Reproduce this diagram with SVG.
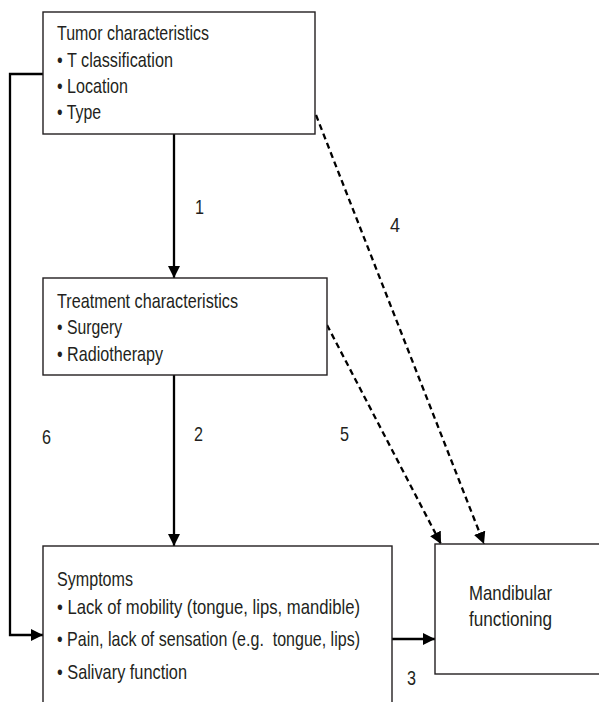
<svg xmlns="http://www.w3.org/2000/svg" width="599" height="702" viewBox="0 0 599 702">
<style>
  .box { fill: #ffffff; stroke: #231f20; stroke-width: 1.4; }
  .t { font-family: "Liberation Sans", Arial, sans-serif; font-size: 21px; fill: #231f20; }
  .c { fill: none; stroke: #000000; stroke-width: 2.3; }
  .d { fill: none; stroke: #000000; stroke-width: 2.3; stroke-dasharray: 6 4; }
</style>
<defs>
  <marker id="ah" markerUnits="userSpaceOnUse" markerWidth="13" markerHeight="13" refX="12" refY="6.5" orient="auto">
    <path d="M0,0.5 L12,6.5 L0,12.5 z" fill="#000000"/>
  </marker>
</defs>
<rect width="599" height="702" fill="#ffffff"/>

<g id="connectors">
  <line id="c1" class="c" x1="174" y1="134" x2="174" y2="278" marker-end="url(#ah)"/>
  <line id="c2" class="c" x1="174" y1="375" x2="174" y2="546" marker-end="url(#ah)"/>
  <line id="c3" class="c" x1="392" y1="639" x2="435" y2="639" marker-end="url(#ah)"/>
  <line id="c4" class="d" x1="316" y1="115" x2="484" y2="544" marker-end="url(#ah)"/>
  <line id="c5" class="d" x1="327" y1="325" x2="441" y2="544" marker-end="url(#ah)"/>
  <polyline id="c6" class="c" points="43,74 10,74 10,635 43,635" marker-end="url(#ah)"/>
  <text class="t" x="195" y="214" textLength="9" lengthAdjust="spacingAndGlyphs">1</text>
  <text class="t" x="194" y="441" textLength="9" lengthAdjust="spacingAndGlyphs">2</text>
  <text class="t" x="407" y="685" textLength="9" lengthAdjust="spacingAndGlyphs">3</text>
  <text class="t" x="390" y="232" textLength="10" lengthAdjust="spacingAndGlyphs">4</text>
  <text class="t" x="340" y="441" textLength="9" lengthAdjust="spacingAndGlyphs">5</text>
  <text class="t" x="42" y="444" textLength="9" lengthAdjust="spacingAndGlyphs">6</text>
</g>

<g id="tumor">
  <rect class="box" x="43" y="12" width="272" height="122"/>
  <text class="t" x="57" y="40" textLength="152" lengthAdjust="spacingAndGlyphs">Tumor characteristics</text>
  <text class="t" x="57" y="67" textLength="116" lengthAdjust="spacingAndGlyphs">• T classification</text>
  <text class="t" x="57" y="93" textLength="71" lengthAdjust="spacingAndGlyphs">• Location</text>
  <text class="t" x="57" y="119" textLength="44" lengthAdjust="spacingAndGlyphs">• Type</text>
</g>

<g id="treatment">
  <rect class="box" x="43" y="278" width="284" height="97"/>
  <text class="t" x="57" y="308" textLength="181" lengthAdjust="spacingAndGlyphs">Treatment characteristics</text>
  <text class="t" x="57" y="334" textLength="65" lengthAdjust="spacingAndGlyphs">• Surgery</text>
  <text class="t" x="57" y="361" textLength="106" lengthAdjust="spacingAndGlyphs">• Radiotherapy</text>
</g>

<g id="symptoms">
  <rect class="box" x="43" y="546" width="349" height="200"/>
  <text class="t" x="57" y="586" textLength="76" lengthAdjust="spacingAndGlyphs">Symptoms</text>
  <text class="t" x="57" y="614" textLength="303" lengthAdjust="spacingAndGlyphs">• Lack of mobility (tongue, lips, mandible)</text>
  <text class="t" x="57" y="646" textLength="303" lengthAdjust="spacingAndGlyphs" xml:space="preserve">• Pain, lack of sensation (e.g.  tongue, lips)</text>
  <text class="t" x="57" y="679" textLength="130" lengthAdjust="spacingAndGlyphs">• Salivary function</text>
</g>

<g id="mandibular">
  <rect class="box" x="435" y="544" width="200" height="130"/>
  <text class="t" x="469" y="600" textLength="83" lengthAdjust="spacingAndGlyphs">Mandibular</text>
  <text class="t" x="469" y="626" textLength="83" lengthAdjust="spacingAndGlyphs">functioning</text>
</g>
</svg>
